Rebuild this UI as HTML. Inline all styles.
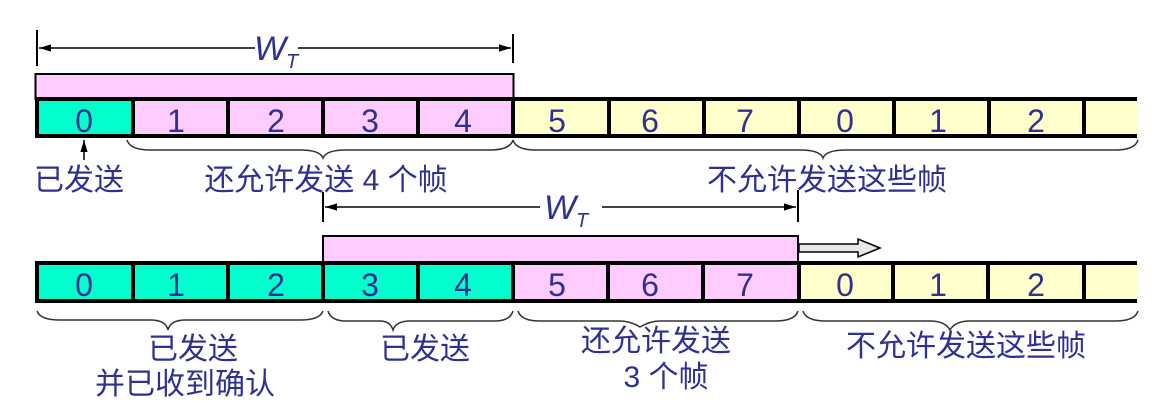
<!DOCTYPE html>
<html><head><meta charset="utf-8"><style>
html,body{margin:0;padding:0;background:#fff;}
svg{display:block;}
text{font-family:"Liberation Sans","Noto Sans CJK SC",sans-serif;fill:#2e3192;}
</style></head><body>
<svg width="1170" height="405" viewBox="0 0 1170 405" xmlns="http://www.w3.org/2000/svg">
<defs>
<marker id="ah" viewBox="0 0 10 10" refX="10" refY="5" markerWidth="8" markerHeight="8" orient="auto-start-reverse"><path d="M0,2 L10,5 L0,8 z" fill="#000"/></marker>
</defs>
<line x1="37" y1="30" x2="37" y2="66" stroke="#000" stroke-width="2"/>
<line x1="513" y1="34" x2="513" y2="63" stroke="#000" stroke-width="2"/>
<line x1="39" y1="48" x2="255" y2="48" stroke="#000" stroke-width="1.5" marker-start="url(#ah)"/>
<line x1="298" y1="48" x2="511" y2="48" stroke="#000" stroke-width="1.5" marker-end="url(#ah)"/>
<text x="254" y="60" font-size="34" font-style="italic">W</text>
<text x="286" y="68" font-size="20" font-style="italic">T</text>
<rect x="35.5" y="74" width="478" height="25" fill="#ffccff" stroke="#000" stroke-width="2"/>
<rect x="37" y="99" width="96" height="37" fill="#00ffcc"/>
<rect x="133" y="99" width="380" height="37" fill="#ffccff"/>
<rect x="513" y="99" width="624" height="37" fill="#ffffcc"/>
<line x1="35" y1="99" x2="1137" y2="99" stroke="#000" stroke-width="4"/>
<line x1="35" y1="136" x2="1137" y2="136" stroke="#000" stroke-width="4"/>
<g stroke="#000" stroke-width="4">
<line x1="37" y1="97" x2="37" y2="138"/><line x1="133" y1="97" x2="133" y2="138"/><line x1="228" y1="97" x2="228" y2="138"/><line x1="323" y1="97" x2="323" y2="138"/><line x1="418" y1="97" x2="418" y2="138"/><line x1="513" y1="97" x2="513" y2="138"/><line x1="609" y1="97" x2="609" y2="138"/><line x1="704" y1="97" x2="704" y2="138"/><line x1="799" y1="97" x2="799" y2="138"/><line x1="894" y1="97" x2="894" y2="138"/><line x1="989" y1="97" x2="989" y2="138"/><line x1="1084" y1="97" x2="1084" y2="138"/>
</g>
<g font-size="32" text-anchor="middle">
<text x="84" y="132">0</text><text x="176" y="132">1</text><text x="276" y="132">2</text><text x="370" y="132">3</text><text x="463" y="132">4</text><text x="557" y="132">5</text><text x="650" y="132">6</text><text x="745" y="132">7</text><text x="845" y="132">0</text><text x="938" y="132">1</text><text x="1036" y="132">2</text>
</g>
<line x1="84" y1="160" x2="84" y2="140" stroke="#000" stroke-width="1.5" marker-end="url(#ah)"/>
<g fill="none" stroke="#333" stroke-width="1.5">
<path d="M127,140 Q130,150 150,150 L300,150 Q320,150 323,158 Q326,150 346,150 L490,150 Q510,150 513,140"/>
<path d="M513,140 Q516,150 536,150 L800,150 Q820,150 823,158 Q826,150 846,150 L1115,150 Q1135,150 1138,140"/>
</g>
<g font-size="30">
<text x="34" y="190">已发送</text>
<text x="326" y="190" text-anchor="middle">还允许发送 4 个帧</text>
<text x="827" y="190" text-anchor="middle">不允许发送这些帧</text>
</g>
<line x1="323" y1="192" x2="323" y2="222" stroke="#000" stroke-width="2"/>
<line x1="798" y1="190" x2="798" y2="222" stroke="#000" stroke-width="2"/>
<line x1="325" y1="207" x2="540" y2="207" stroke="#000" stroke-width="1.5" marker-start="url(#ah)"/>
<line x1="602" y1="207" x2="796" y2="207" stroke="#000" stroke-width="1.5" marker-end="url(#ah)"/>
<text x="544" y="219" font-size="34" font-style="italic">W</text>
<text x="576" y="227" font-size="20" font-style="italic">T</text>
<rect x="323" y="236" width="475" height="26" fill="#ffccff" stroke="#000" stroke-width="2"/>
<path d="M799,244 L858,244 L858,239 L880,248 L858,257 L858,252 L799,252 Z" fill="#e8e8e8" stroke="#000" stroke-width="1.5"/>
<rect x="37" y="263" width="476" height="38" fill="#00ffcc"/>
<rect x="513" y="263" width="285" height="38" fill="#ffccff"/>
<rect x="798" y="263" width="339" height="38" fill="#ffffcc"/>
<line x1="35" y1="263" x2="1137" y2="263" stroke="#000" stroke-width="4"/>
<line x1="35" y1="301" x2="1137" y2="301" stroke="#000" stroke-width="4"/>
<g stroke="#000" stroke-width="4">
<line x1="37" y1="261" x2="37" y2="303"/><line x1="133" y1="261" x2="133" y2="303"/><line x1="228" y1="261" x2="228" y2="303"/><line x1="323" y1="261" x2="323" y2="303"/><line x1="418" y1="261" x2="418" y2="303"/><line x1="513" y1="261" x2="513" y2="303"/><line x1="608" y1="261" x2="608" y2="303"/><line x1="703" y1="261" x2="703" y2="303"/><line x1="799" y1="261" x2="799" y2="303"/><line x1="893" y1="261" x2="893" y2="303"/><line x1="988" y1="261" x2="988" y2="303"/><line x1="1084" y1="261" x2="1084" y2="303"/>
</g>
<g font-size="32" text-anchor="middle">
<text x="84" y="296">0</text><text x="176" y="296">1</text><text x="276" y="296">2</text><text x="370" y="296">3</text><text x="463" y="296">4</text><text x="557" y="296">5</text><text x="650" y="296">6</text><text x="745" y="296">7</text><text x="845" y="296">0</text><text x="938" y="296">1</text><text x="1036" y="296">2</text>
</g>
<g fill="none" stroke="#333" stroke-width="1.5">
<path d="M37,311 Q40,320 60,320 L150,320 Q166,320 168,330 Q170,320 186,320 L300,320 Q320,320 323,311"/>
<path d="M328,311 Q331,321 346,321 L380,321 Q390,321 393,330 Q396,321 410,321 L495,321 Q510,321 513,311"/>
<path d="M518,311 Q521,321 540,321 L620,321 Q630,321 640,327 Q650,321 660,321 L775,321 Q795,321 798,311"/>
<path d="M803,311 Q806,321 826,321 L930,321 Q945,321 950,330 Q955,321 970,321 L1115,321 Q1135,321 1138,311"/>
</g>
<g font-size="30" text-anchor="middle">
<text x="193" y="359">已发送</text>
<text x="185" y="394">并已收到确认</text>
<text x="425" y="359">已发送</text>
<text x="656" y="351">还允许发送</text>
<text x="666" y="387">3 个帧</text>
<text x="966" y="356">不允许发送这些帧</text>
</g>
</svg>
</body></html>
